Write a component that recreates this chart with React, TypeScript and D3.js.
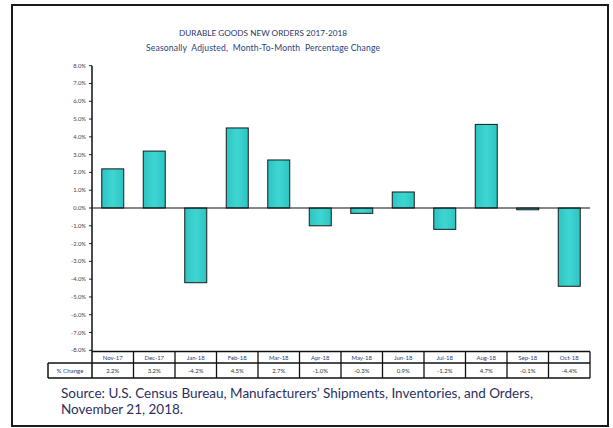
import React from "react";
import * as d3 from "d3";

const categories = ["Nov-17", "Dec-17", "Jan-18", "Feb-18", "Mar-18", "Apr-18", "May-18", "Jun-18", "Jul-18", "Aug-18", "Sep-18", "Oct-18"];
const values = [2.2, 3.2, -4.2, 4.5, 2.7, -1.0, -0.3, 0.9, -1.2, 4.7, -0.1, -4.4];
const tickValues = [8, 7, 6, 5, 4, 3, 2, 1, 0, -1, -2, -3, -4, -5, -6, -7, -8];
const title = "DURABLE GOODS NEW ORDERS 2017-2018";
const subtitle = "Seasonally  Adjusted,  Month-To-Month  Percentage Change";
const rowLabel = "% Change";
const sourceLines = [
  "Source: U.S. Census Bureau, Manufacturers\u2019 Shipments, Inventories, and Orders,",
  "November 21, 2018.",
];

const W = 613, H = 428;
const plotLeft = 92, plotRight = 590;
const yTop = 65.7, yBottom = 351.5;
const rowMid = 363, rowBottom = 378, labelLeft = 48;

export default function App() {
  const x = d3.scaleBand<string>().domain(categories).range([plotLeft, plotRight]).paddingInner(0.47).paddingOuter(0.235);
  const xCell = d3.scaleBand<string>().domain(categories).range([plotLeft, plotRight]);
  const y = d3.scaleLinear().domain([-8, 8]).range([yBottom - 1.2, yTop]);
  const y0 = y(0);
  const fmt = (v: number) => v.toFixed(1) + "%";
  const font = "Lato, 'Open Sans', sans-serif";
  const blue = "#2a3f7a";

  return (
    <svg width={W} height={H} style={{ position: "absolute", left: 0, top: 0, background: "#fff" }}>
      <defs>
        <linearGradient id="barg" x1="0" x2="1" y1="0" y2="0">
          <stop offset="0" stopColor="#2cc4c2" />
          <stop offset="0.5" stopColor="#3fd6d2" />
          <stop offset="1" stopColor="#2cc4c2" />
        </linearGradient>
      </defs>
      <rect x={12} y={5} width={596} height={421} fill="#fff" stroke="#1a1a1a" strokeWidth={2} />
      <text x={263} y={36} textAnchor="middle" fontFamily={font} fontSize={8.3} fill="#2a3568" textLength={168} lengthAdjust="spacingAndGlyphs">{title}</text>
      <text x={263} y={51} textAnchor="middle" fontFamily={font} fontSize={8.6} fill={blue} style={{ whiteSpace: "pre" }} textLength={234} lengthAdjust="spacing">{subtitle}</text>

      {/* y ticks */}
      {tickValues.map((t) => (
        <g key={t}>
          <line x1={plotLeft - 3} x2={plotLeft} y1={y(t)} y2={y(t)} stroke="#222" strokeWidth={1} />
          <text x={plotLeft - 6} y={y(t) + 2} textAnchor="end" fontFamily={font} fontSize={5.8} fill="#444">{fmt(t)}</text>
        </g>
      ))}

      {/* bars */}
      {categories.map((c, i) => {
        const v = values[i];
        const top = Math.min(y(v), y0);
        const h = Math.max(Math.abs(y(v) - y0), 1.2);
        return <rect key={c} x={x(c)} y={top} width={x.bandwidth()} height={h} fill="url(#barg)" stroke="#1a1a1a" strokeWidth={1} />;
      })}

      {/* zero line */}
      <line x1={plotLeft} x2={plotRight} y1={y0} y2={y0} stroke="#111" strokeWidth={1.2} />
      {/* y axis */}
      <line x1={plotLeft} x2={plotLeft} y1={yTop} y2={rowBottom} stroke="#111" strokeWidth={1.5} />

      {/* table */}
      <line x1={plotLeft} x2={plotRight} y1={yBottom} y2={yBottom} stroke="#111" strokeWidth={1.3} />
      <line x1={labelLeft} x2={plotRight} y1={rowMid} y2={rowMid} stroke="#111" strokeWidth={1.5} />
      <line x1={labelLeft} x2={plotRight} y1={rowBottom} y2={rowBottom} stroke="#111" strokeWidth={1.5} />
      <line x1={labelLeft} x2={labelLeft} y1={rowMid} y2={rowBottom} stroke="#111" strokeWidth={1.5} />
      {categories.map((c) => (
        <line key={c} x1={(xCell(c) as number) + xCell.bandwidth()} x2={(xCell(c) as number) + xCell.bandwidth()} y1={yBottom} y2={rowBottom} stroke="#111" strokeWidth={1.3} />
      ))}
      <text x={(labelLeft + plotLeft) / 2} y={rowMid + 10} textAnchor="middle" fontFamily={font} fontSize={6.2} fill={blue}>{rowLabel}</text>
      {categories.map((c, i) => (
        <g key={c}>
          <text x={(xCell(c) as number) + xCell.bandwidth() / 2} y={yBottom + 8.5} textAnchor="middle" fontFamily={font} fontSize={6} fill={blue}>{c}</text>
          <text x={(xCell(c) as number) + xCell.bandwidth() / 2} y={rowMid + 10} textAnchor="middle" fontFamily={font} fontSize={6} fill="#333">{fmt(values[i])}</text>
        </g>
      ))}

      {/* source */}
      {sourceLines.map((s, i) => (
        <text key={i} x={61} y={398 + i * 15.5} fontFamily={font} fontSize={13.5} fill="#2a3060">{s}</text>
      ))}
    </svg>
  );
}
